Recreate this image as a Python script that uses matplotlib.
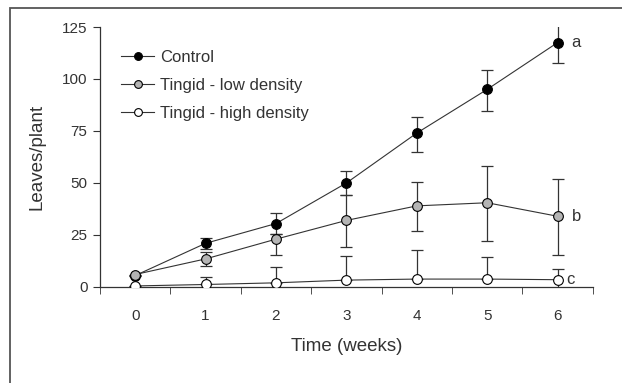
import numpy as np
import matplotlib.pyplot as plt
from matplotlib.patches import Rectangle

plt.rcParams['font.family'] = ['Liberation Sans', 'DejaVu Sans']

weeks = [0, 1, 2, 3, 4, 5, 6]

control = [5.5, 21, 30.5, 50, 74, 95, 117.5]
control_lo = [0, 2.5, 5, 6, 9, 10.5, 10]
control_hi = [0, 2.5, 5, 6, 7.5, 9.5, 9.5]

low = [6, 13.5, 23, 32, 39, 40.5, 34]
low_lo = [0, 3.5, 7.5, 13, 12, 18.5, 18.5]
low_hi = [0, 3.5, 2.5, 12, 11.5, 17.5, 18]

high = [0.5, 1.2, 2, 3.3, 3.8, 3.8, 3.5]
high_lo = [0, 0, 0, 0, 0, 0, 5]
high_hi = [0, 3.5, 7.5, 11.5, 14, 10.5, 5]

series = [
    ('Control', control, control_lo, control_hi, 'black'),
    ('Tingid - low density', low, low_lo, low_hi, '#b4b4b4'),
    ('Tingid - high density', high, high_lo, high_hi, 'white'),
]
letters = [('a', 117.5, 6.2), ('b', 34, 6.2), ('c', 3.5, 6.12)]

ink = '#333333'
fig = plt.figure(figsize=(6.22, 3.83), dpi=100)
ax = fig.add_axes([0.1608, 0.2507, 0.7922, 0.6788])

# outer frame (only top and left edges fall inside the canvas)
fig.patches.append(Rectangle((9.5 / 622, -0.1), 1.2, 1 - 7.5 / 383 + 0.1,
                             transform=fig.transFigure, fill=False,
                             edgecolor='#555555', linewidth=1.3))

handles = []
for (name, y, lo, hi, fc) in series:
    ax.errorbar(weeks, y, yerr=[lo, hi], fmt='none', ecolor=ink,
                elinewidth=0.9, capsize=4, capthick=0.9, zorder=2)
    h, = ax.plot(weeks, y, '-o', color=ink, linewidth=0.8, markersize=7,
                 markerfacecolor=fc, markeredgecolor='black',
                 markeredgewidth=0.8, zorder=3, label=name)
    handles.append(h)

for (t, yv, xv) in letters:
    ax.text(xv, yv, t, fontsize=12, color=ink, va='center', ha='left')

ax.set_xlim(-0.5, 6.5)
ax.set_ylim(0, 125)
ax.set_xticks(weeks)
ax.set_xticks(np.arange(-0.5, 6.6, 1), minor=True)
ax.set_yticks([0, 25, 50, 75, 100, 125])
ax.tick_params(axis='x', which='major', length=0, pad=16, labelsize=11, labelcolor=ink)
ax.tick_params(axis='x', which='minor', length=5, direction='out', color=ink)
ax.tick_params(axis='y', length=5, direction='out', labelsize=11, labelcolor=ink, color=ink, pad=4)

for s in ['top', 'right']:
    ax.spines[s].set_visible(False)
for s in ['left', 'bottom']:
    ax.spines[s].set_color(ink)
    ax.spines[s].set_linewidth(0.9)

ax.set_xlabel('Time (weeks)', fontsize=13.5, color=ink, labelpad=11)
ax.set_ylabel('Leaves/plant', fontsize=13.5, color=ink, labelpad=12)

ax.legend(handles=handles, loc='upper left', bbox_to_anchor=(0.012, 0.97),
          frameon=False, fontsize=12, handlelength=2.0, handletextpad=0.35,
          labelspacing=0.78, markerscale=0.8, labelcolor=ink)

fig.savefig('out.png', dpi=100)
